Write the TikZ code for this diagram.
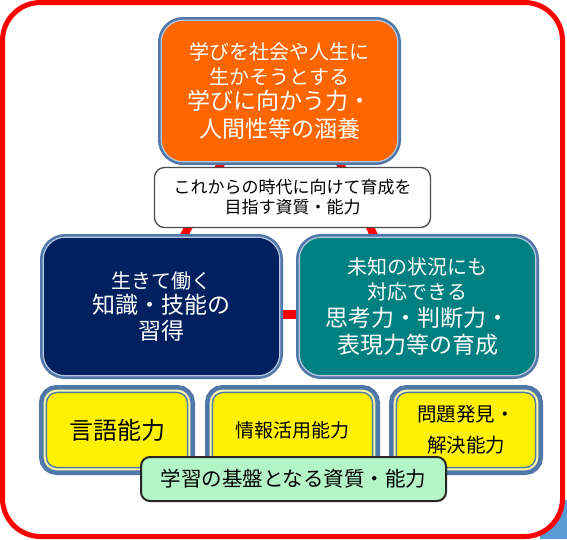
\documentclass[tikz,border=0pt]{standalone}
\usepackage{fontspec}
\setmainfont{Noto Sans CJK JP}
\usetikzlibrary{positioning}

\definecolor{frameblue}{RGB}{79,119,170}
\definecolor{boxorange}{RGB}{255,102,0}
\definecolor{boxnavy}{RGB}{0,32,96}
\definecolor{boxteal}{RGB}{0,128,128}
\definecolor{boxmint}{RGB}{180,245,200}
\definecolor{cornerblue}{RGB}{91,155,213}

\newcommand{\fsS}{\fontsize{20}{25}\selectfont}
\newcommand{\fsL}{\fontsize{23}{25}\selectfont}

\pgfdeclarelayer{back}
\pgfdeclarelayer{links}
\pgfsetlayers{back,links,main}

\begin{document}
\begin{tikzpicture}[x=1pt, y=-1pt,
  bigbox/.style={rounded corners=22, inner sep=0, align=center, text=white,
    minimum width=236.6, minimum height=138.6,
    preaction={draw=frameblue, line width=6.4}, draw=white!60!frameblue, line width=1.2},
  ybox/.style={rounded corners=12, inner sep=0, align=center, fill=yellow,
    minimum height=78.6, preaction={draw=frameblue, line width=11.4},
    draw=frameblue, line width=1.5, double=yellow!35!white, double distance=2},
  link/.style={draw=red, line width=8, shorten <=-4, shorten >=-4}]
  \useasboundingbox (0,0) rectangle (567,539);

  \begin{pgfonlayer}{back}
    \fill[cornerblue] (540,500) rectangle (567,539);
    \draw[red, line width=5, fill=white, rounded corners=38] (2.5,2.5) rectangle (562.5,536.5);
  \end{pgfonlayer}

  \node[bigbox, fill=boxorange, minimum height=141.6, font=\fsS] (orange) at (279.5,91)
    {学びを社会や人生に\\生かそうとする\\{\fsL 学びに向かう力・}\\[3pt]{\fsL 人間性等の涵養}};
  \node[draw=black!70, line width=1.3, fill=white, rounded corners=10, inner sep=0,
    minimum width=276, minimum height=60, align=center,
    font=\fontsize{17}{20}\selectfont] (aim) at (292.5,197.5)
    {これからの時代に向けて育成を\\目指す資質・能力};
  \node[bigbox, fill=boxnavy, font=\fsS] (navy) at (161.5,306.5)
    {生きて働く\\{\fsL 知識・技能の}\\[1pt]{\fsL 習得}};
  \node[bigbox, fill=boxteal, font=\fsS] (teal) at (417.5,306.5)
    {未知の状況にも\\対応できる\\[2pt]{\fsL 思考力・判断力・}\\[2pt]{\fsL 表現力等の育成}};

  \node[ybox, minimum width=144.6, font=\fontsize{24}{28}\selectfont] (lang) at (117,430) {言語能力};
  \node[ybox, minimum width=163.6, font=\fontsize{19}{24}\selectfont] (info) at (292.5,430) {情報活用能力};
  \node[ybox, minimum width=142.6, font=\fontsize{19.5}{31}\selectfont] (solve) at (466,430) {問題発見・\\解決能力};

  \node[draw=black!85, line width=2, fill=boxmint, rounded corners=9, inner sep=0,
    minimum width=305, minimum height=44, font=\fontsize{20.5}{24}\selectfont] (base) at (293.5,479)
    {学習の基盤となる資質・能力};

  \begin{pgfonlayer}{links}
    \draw[link] ([xshift=-58]orange.south) -- ([xshift=22]navy.north);
    \draw[link] ([xshift=60]orange.south) -- ([xshift=-43]teal.north);
    \draw[link, line width=9] ([yshift=-8]navy.east) -- ([yshift=-8]teal.west);
  \end{pgfonlayer}
\end{tikzpicture}
\end{document}
